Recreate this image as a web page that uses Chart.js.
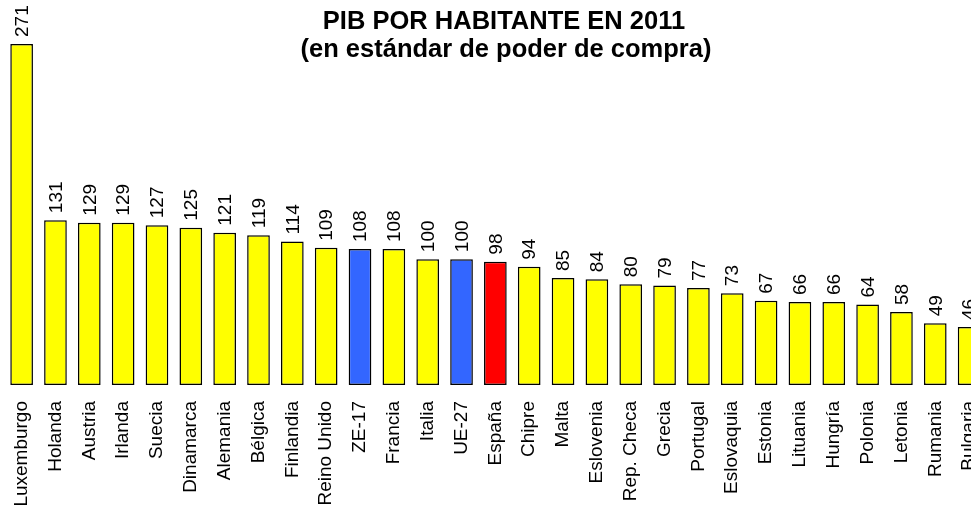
<!DOCTYPE html>
<html>
<head>
<meta charset="utf-8">
<script src="https://cdn.jsdelivr.net/npm/chart.js@4.4.1/dist/chart.umd.min.js"></script>
<style>
    html, body { margin: 0; padding: 0; background: #fff; overflow: hidden; }
    #wrap { position: relative; width: 971px; height: 508px; overflow: hidden; }
    #grafico { position: absolute; left: 0; top: 0; }
</style>
</head>
<body>
<div id="wrap"><canvas id="grafico" width="1008" height="508"></canvas></div>
<script>
const paises = ['Luxemburgo', 'Holanda', 'Austria', 'Irlanda', 'Suecia', 'Dinamarca', 'Alemania',
    'Bélgica', 'Finlandia', 'Reino Unido', 'ZE-17', 'Francia', 'Italia', 'UE-27', 'España',
    'Chipre', 'Malta', 'Eslovenia', 'Rep. Checa', 'Grecia', 'Portugal', 'Eslovaquia', 'Estonia',
    'Lituania', 'Hungría', 'Polonia', 'Letonia', 'Rumania', 'Bulgaria'];
const pib = [271, 131, 129, 129, 127, 125, 121, 119, 114, 109, 108, 108, 100, 100, 98,
    94, 85, 84, 80, 79, 77, 73, 67, 66, 66, 64, 58, 49, 46];
const medias = ['ZE-17', 'UE-27'];
const destacado = ['España'];
const tituloLineas = ['PIB POR HABITANTE EN 2011', '(en estándar de poder de compra)'];

const fuente = '"Liberation Sans", Arial, Helvetica, sans-serif';

const colores = paises.map(function(p){
    if (destacado.includes(p)) return '#ff0000';
    if (medias.includes(p)) return '#3366ff';
    return '#ffff00';
});

// etiquetas de valor giradas encima de cada barra + titulo
const pluginEtiquetas = {
    id: 'etiquetas',
    afterDatasetsDraw(chart) {
        const ctx = chart.ctx;
        const meta = chart.getDatasetMeta(0);
        ctx.save();
        ctx.fillStyle = '#000';
        ctx.font = '19px ' + fuente;
        ctx.textAlign = 'left';
        ctx.textBaseline = 'middle';
        meta.data.forEach(function(bar, i){
            ctx.save();
            ctx.translate(bar.x, bar.y - 7);
            ctx.rotate(-Math.PI / 2);
            ctx.fillText(String(pib[i]), 0, 1);
            ctx.restore();
        });
        ctx.restore();

        ctx.save();
        ctx.fillStyle = '#000';
        ctx.font = 'bold 25.5px ' + fuente;
        ctx.textAlign = 'center';
        ctx.textBaseline = 'alphabetic';
        ctx.fillText(tituloLineas[0], 504, 29);
        ctx.fillText(tituloLineas[1], 506, 57);
        ctx.restore();
    }
};

new Chart(document.getElementById('grafico').getContext('2d'), {
    type: 'bar',
    data: {
        labels: paises,
        datasets: [{
            data: pib,
            backgroundColor: colores,
            borderColor: '#000',
            borderWidth: 1.5,
            borderSkipped: false,
            barPercentage: 0.67,
            categoryPercentage: 1
        }]
    },
    options: {
        responsive: false,
        animation: false,
        layout: { padding: { top: 44, left: 4.7, right: 5, bottom: 0 } },
        plugins: {
            legend: { display: false },
            title: { display: false },
            tooltip: { enabled: false }
        },
        scales: {
            y: {
                display: false,
                min: 0,
                max: 271
            },
            x: {
                grid: { display: false, drawTicks: false },
                border: { display: false },
                ticks: {
                    color: '#000',
                    font: { family: fuente, size: 19 },
                    minRotation: 90,
                    maxRotation: 90,
                    autoSkip: false,
                    padding: 16
                },
                afterFit: function(scale) { scale.height = 123; }
            }
        }
    },
    plugins: [pluginEtiquetas]
});
</script>
</body>
</html>
